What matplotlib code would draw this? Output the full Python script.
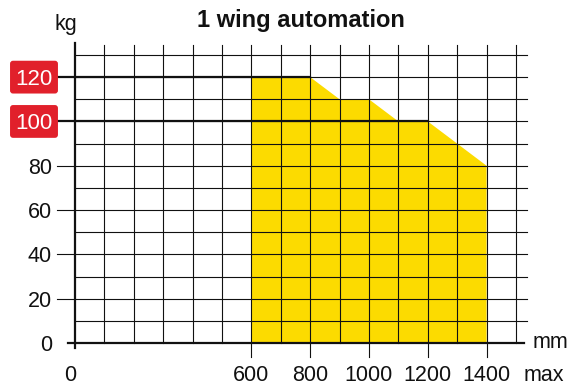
import matplotlib
matplotlib.use("Agg")
import matplotlib.pyplot as plt
from matplotlib.patches import FancyBboxPatch

plt.rcParams['font.family'] = ['Liberation Sans', 'DejaVu Sans']

# load curve: leaf width (mm) vs max leaf weight (kg)
width_mm = [600, 600, 800, 900, 1000, 1100, 1200, 1400, 1400]
weight_kg = [0, 120, 120, 110, 110, 100, 100, 80, 0]

x_labels = [0, 600, 800, 1000, 1200, 1400]
y_labels = [0, 20, 40, 60, 80]
boxed_labels = [120, 100]
boxed_reach = [800, 1200]   # thick line at each boxed weight runs up to here
title = "1 wing automation"

yellow = '#FCDB00'
red = '#E1202B'
ink = '#111111'

fig = plt.figure(figsize=(5.81, 3.88), dpi=100)
ax = fig.add_axes([0.1291, 0.116, 0.759, 0.7423])
ax.set_xlim(0, 1500)
ax.set_ylim(0, 130)
ax.axis('off')

# permitted area
ax.fill(width_mm, weight_kg, color=yellow, lw=0, zorder=1)

# grid
for x in range(100, 1600, 100):
    low = -6.3 if x in x_labels else 0
    ax.plot([x, x], [low, 134.5], color=ink, lw=0.8, zorder=2, clip_on=False)
for y in range(10, 140, 10):
    left = -61 if y in y_labels else 0
    ax.plot([left, 1538], [y, y], color=ink, lw=0.8, zorder=2, clip_on=False)

# axes
ax.plot([0, 0], [-2.3, 135.5], color=ink, lw=1.6, zorder=3, clip_on=False)
ax.plot([-24, 1528], [0, 0], color=ink, lw=1.6, zorder=3, clip_on=False)

# tick labels
fs = 15.5
for y in y_labels:
    ax.text(-78, y, str(y), ha='right', va='center_baseline', fontsize=fs,
            color=ink, clip_on=False)
for x in x_labels:
    xpos = -17 if x == 0 else x
    ax.text(xpos, -17, str(x), ha='center', va='baseline', fontsize=fs,
            color=ink, clip_on=False)
ax.text(1527, -17, 'max', ha='left', va='baseline', fontsize=fs, color=ink,
        clip_on=False)
ax.text(1556, -2.3, 'mm', ha='left', va='baseline', fontsize=fs, color=ink,
        clip_on=False)
ax.text(-31, 141.4, 'kg', ha='center', va='baseline', fontsize=fs, color=ink,
        clip_on=False)
ax.text(769, 142.7, title, ha='center', va='baseline', fontsize=17,
        fontweight='bold', color=ink, clip_on=False)

# highlighted weights
for y, reach in zip(boxed_labels, boxed_reach):
    ax.plot([-58, reach], [y, y], color=ink, lw=1.6, zorder=3, clip_on=False)
    box = FancyBboxPatch((-221, y - 7.4), 163, 14.8,
                         boxstyle='round,pad=0,rounding_size=10',
                         mutation_aspect=0.135,
                         facecolor=red, edgecolor='none', clip_on=False, zorder=4)
    ax.add_patch(box)
    ax.text(-139.5, y, str(y), ha='center', va='center_baseline', fontsize=16,
            color='white', zorder=5, clip_on=False)

fig.savefig('out.png', dpi=100)
